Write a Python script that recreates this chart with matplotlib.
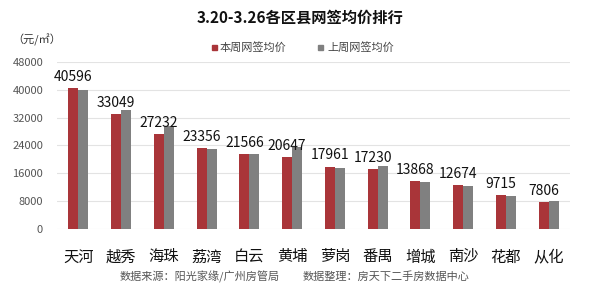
import matplotlib
matplotlib.use("Agg")
import matplotlib.pyplot as plt
import numpy as np

plt.rcParams["font.family"] = ["Noto Sans CJK SC", "DejaVu Sans"]

districts = ["天河", "越秀", "海珠", "荔湾", "白云", "黄埔", "萝岗", "番禺", "增城", "南沙", "花都", "从化"]
this_week = [40596, 33049, 27232, 23356, 21566, 20647, 17961, 17230, 13868, 12674, 9715, 7806]
last_week = [40000, 34200, 29500, 22950, 21500, 23600, 17600, 18250, 13600, 12500, 9400, 8100]
yticks = [0, 8000, 16000, 24000, 32000, 40000, 48000]

red = "#A93539"
gray = "#808080"

fig = plt.figure(figsize=(6.0, 2.96), dpi=100)
ax = fig.add_axes([0.095, 0.2264, 0.855, 0.5641])

x = np.arange(len(districts))
w = 0.235
ax.bar(x - w / 2, this_week, w, color=red, zorder=3)
ax.bar(x + w / 2, last_week, w, color=gray, zorder=3)

for xi, v in zip(x, this_week):
    ax.annotate(str(v), (xi - w / 2, v), xytext=(0, 3), textcoords="offset points",
                ha="center", va="bottom", fontsize=10, color="#111111", zorder=4)

ax.set_xlim(-0.5, len(districts) - 0.5)
ax.set_ylim(0, 48000)
ax.set_yticks(yticks)
ax.set_yticklabels([str(t) for t in yticks], fontsize=8, color="#555555")
ax.set_xticks(x)
ax.set_xticklabels(districts, fontsize=11, color="#111111")
ax.tick_params(axis="both", length=0)
ax.tick_params(axis="y", pad=10)
ax.tick_params(axis="x", pad=14)
ax.grid(axis="y", color="#E3E3E3", linewidth=0.8, zorder=0)
for s in ax.spines.values():
    s.set_visible(False)

fig.text(0.5, 0.94, "3.20-3.26各区县网签均价排行", ha="center", va="center",
         fontsize=11, fontweight="bold", color="#111111")
fig.text(0.02, 0.865, "（元/㎡）", ha="left", va="center", fontsize=8, color="#333333")

# legend
fig.patches.append(plt.Rectangle((212 / 600, 1 - 50 / 296), 5 / 600, 5 / 296,
                                 transform=fig.transFigure, color=red))
fig.text(220 / 600, 1 - 47 / 296, "本周网签均价", ha="left", va="center", fontsize=8, color="#444444")
fig.patches.append(plt.Rectangle((318 / 600, 1 - 50 / 296), 5 / 600, 5 / 296,
                                 transform=fig.transFigure, color=gray))
fig.text(327 / 600, 1 - 47 / 296, "上周网签均价", ha="left", va="center", fontsize=8, color="#444444")

fig.text(120 / 600, 1 - 277 / 296, "数据来源：阳光家缘/广州房管局", ha="left", va="center",
         fontsize=8, color="#555555")
fig.text(303 / 600, 1 - 277 / 296, "数据整理：房天下二手房数据中心", ha="left", va="center",
         fontsize=8, color="#555555")

fig.savefig("out.png", dpi=100)
